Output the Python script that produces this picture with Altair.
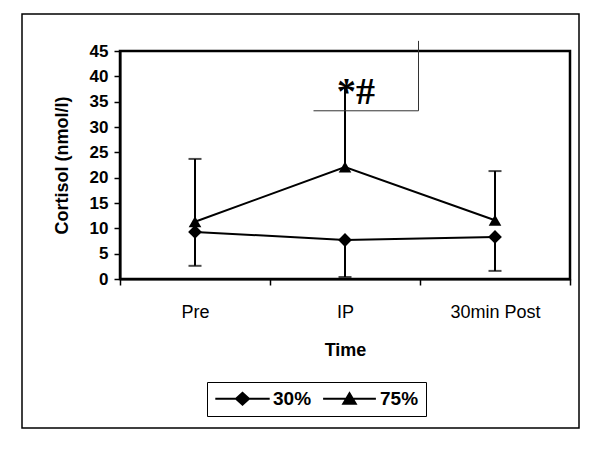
import altair as alt
import pandas as pd

# ---- data ----
times = ["Pre", "IP", "30min Post"]
series = ["30%", "75%"]
mean_30 = [9.3, 7.7, 8.3]
lower_30 = [2.6, 0.4, 1.6]
mean_75 = [11.3, 22.1, 11.6]
upper_75 = [23.7, 37.7, 21.3]
y_ticks = [0, 5, 10, 15, 20, 25, 30, 35, 40, 45]
annot_label = ["*#"]
annot_time = ["IP"]
annot_y = [35.3]
bracket_x = [1.29, 1.99]   # in category units (0..3)
bracket_y = [33.2, 47.0]

df = pd.DataFrame({
    "Time": times * 2,
    "Series": [series[0]] * 3 + [series[1]] * 3,
    "Cortisol": mean_30 + mean_75,
    "Err": lower_30 + upper_75,
})
df_ann = pd.DataFrame({"Time": annot_time, "Cortisol": annot_y, "label": annot_label})
df_h = pd.DataFrame({"bx": [bracket_x[0]], "bx2": [bracket_x[1]], "by": [bracket_y[0]]})
df_v = pd.DataFrame({"bx": [bracket_x[1]], "by": [bracket_y[0]], "by2": [bracket_y[1]]})

FONT = "Liberation Sans"
W, H = 450, 228

x_scale = alt.Scale(type="band", domain=times, paddingInner=0, paddingOuter=0)
x_axis = alt.Axis(title="Time", tickBand="extent", tickSize=6, labelPadding=18,
                  labelFontSize=18, labelAngle=0, titleFontSize=18,
                  titleFontWeight="bold", titlePadding=20)
y_scale = alt.Scale(domain=[0, 45], nice=False, zero=True)
y_axis = alt.Axis(values=y_ticks, title="Cortisol (nmol/l)", tickSize=6,
                  labelPadding=6, labelFontSize=17, labelFontWeight="bold",
                  titleFontSize=18, titleFontWeight="bold", titlePadding=18)

x_enc = alt.X("Time:N", sort=times, scale=x_scale, axis=x_axis)
y_enc = alt.Y("Cortisol:Q", scale=y_scale, axis=y_axis)

base = alt.Chart(df)

err_rule = base.mark_rule(color="black", strokeWidth=2).encode(
    x=x_enc, y=y_enc, y2="Err:Q")
err_cap = base.mark_tick(color="black", thickness=2, size=13, orient="horizontal").encode(
    x=x_enc, y=alt.Y("Err:Q", scale=y_scale, axis=y_axis))
lines = base.mark_line(color="black", strokeWidth=2).encode(
    x=x_enc, y=y_enc, detail="Series:N")
points = base.mark_point(filled=True, color="black", opacity=1).encode(
    x=x_enc, y=y_enc,
    shape=alt.Shape("Series:N", scale=alt.Scale(domain=series, range=["diamond", "triangle-up"]),
                    legend=None),
    size=alt.Size("Series:N", scale=alt.Scale(domain=series, range=[190, 160]), legend=None),
)

diamond_leg = "M-3.4,-0.13H3.4V0.13H-3.4Z M0,-0.9L1,0L0,0.9L-1,0Z"
triangle_leg = "M-3.3,-0.13H3.3V0.13H-3.3Z M0,-0.95L1,0.75L-1,0.75Z"
legend_layer = base.mark_point(filled=True, color="black", opacity=1, clip=True).encode(
    x=alt.value(0), y=alt.value(-400),
    shape=alt.Shape("Series:N",
                    scale=alt.Scale(domain=series, range=[diamond_leg, triangle_leg]),
                    legend=alt.Legend(orient="none", legendX=87, legendY=331,
                                      direction="horizontal", title=None,
                                      symbolSize=256, symbolFillColor="black",
                                      symbolStrokeWidth=0, symbolOffset=19,
                                      labelOffset=21, labelFont=FONT, labelFontSize=19,
                                      labelFontWeight="bold", labelColor="black",
                                      strokeColor="black", padding=7,
                                      columnPadding=9)),
)

annot = alt.Chart(df_ann).mark_text(
    font="Liberation Serif", fontSize=38, fontWeight="bold", color="black", dx=11, dy=4,
    baseline="alphabetic"
).encode(x=x_enc, y=y_enc, text="label:N")

main = alt.layer(err_rule, err_cap, lines, points, annot, legend_layer).resolve_scale(
    shape="independent", size="independent")

bx_scale = alt.Scale(domain=[0, 3], nice=False, zero=False)
by_scale = alt.Scale(domain=[0, 45], nice=False)
br_h = alt.Chart(df_h).mark_rule(color="#333333", strokeWidth=1).encode(
    x=alt.X("bx:Q", scale=bx_scale, axis=None), x2="bx2:Q",
    y=alt.Y("by:Q", scale=by_scale, axis=None))
br_v = alt.Chart(df_v).mark_rule(color="#333333", strokeWidth=1).encode(
    x=alt.X("bx:Q", scale=bx_scale, axis=None),
    y=alt.Y("by:Q", scale=by_scale, axis=None), y2="by2:Q")
bracket = alt.layer(br_h, br_v)

frame_df = pd.DataFrame({"k": [0]})
frame = alt.Chart(frame_df).mark_rect(
    fillOpacity=0, stroke="black", strokeWidth=1.5
).encode(x=alt.value(-98), x2=alt.value(459), y=alt.value(-37), y2=alt.value(377))
plot_border = alt.Chart(frame_df).mark_rect(
    fillOpacity=0, stroke="black", strokeWidth=2.5
).encode(x=alt.value(0), x2=alt.value(W), y=alt.value(0), y2=alt.value(H))

chart = alt.layer(frame, plot_border, main, bracket).resolve_scale(
    x="independent", y="independent"
).properties(
    width=W, height=H,
    background="white",
    autosize=alt.AutoSizeParams(type="none"),
    padding={"left": 112, "top": 43, "right": 11, "bottom": 169},
).configure_view(
    stroke="black", strokeWidth=2
).configure_axis(
    domainColor="black", domainWidth=2, tickColor="black", tickWidth=1.5,
    labelColor="black", titleColor="black", labelFont=FONT, titleFont=FONT, grid=False
)

chart.save("out.html", embed_options={"renderer": "svg", "actions": False})
